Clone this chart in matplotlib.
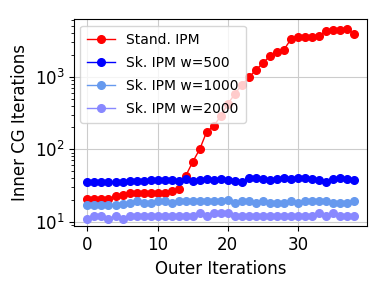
import matplotlib
matplotlib.use("Agg")
import matplotlib.pyplot as plt
import numpy as np

x = list(range(39))
stand_ipm = [20.4, 20.4, 20.4, 20.4, 22.6, 23.6, 24.6, 25.1, 25.1, 25.1,
             25.1, 25.1, 26.3, 28.5, 42.7, 67, 100, 175, 209, 288,
             420, 580, 769, 980, 1236, 1545, 1928, 2170, 2354, 3300,
             3520, 3560, 3560, 3670, 4260, 4400, 4430, 4500, 3940]
sk_500 = [35.0, 35.6, 35.6, 35.6, 35.0, 35.0, 36.8, 36.8, 36.8, 37.6,
          37.6, 37.6, 37.6, 36.8, 39.0, 36.8, 37.6, 38.5, 37.6, 38.5,
          37.6, 36.8, 35.6, 39.7, 39.7, 38.5, 37.6, 38.5, 39.7, 38.5,
          39.7, 39.7, 38.5, 37.6, 35.6, 38.5, 39.7, 38.5, 37.6]
sk_1000 = [17.0, 17.0, 17.0, 17.0, 17.0, 17.4, 18.3, 19.1, 18.3, 18.3,
           19.1, 19.1, 18.3, 19.1, 19.1, 19.1, 19.1, 19.1, 19.1, 19.1,
           19.9, 18.3, 19.1, 19.1, 18.3, 19.1, 18.3, 17.9, 18.3, 19.1,
           18.3, 19.1, 19.1, 19.1, 19.1, 18.3, 18.3, 18.3, 19.1]
sk_2000 = [10.9, 12.0, 12.0, 10.9, 12.0, 10.9, 12.0, 12.0, 12.0, 12.0,
           12.0, 12.0, 12.0, 12.0, 12.0, 12.0, 13.1, 12.0, 13.1, 13.1,
           13.1, 12.0, 12.0, 12.0, 12.0, 12.0, 12.0, 12.0, 12.0, 12.0,
           12.0, 12.0, 12.0, 13.1, 12.0, 13.1, 12.0, 12.0, 12.0]

series = [
    ("Stand. IPM", stand_ipm, "red"),
    ("Sk. IPM w=500", sk_500, "blue"),
    ("Sk. IPM w=1000", sk_1000, "#6699EE"),
    ("Sk. IPM w=2000", sk_2000, "#8888FF"),
]

fig = plt.figure(figsize=(3.88, 2.90), dpi=100)
ax = fig.add_axes([0.191, 0.219, 0.756, 0.714])
for label, vals, col in series:
    ax.plot(x, vals, marker="o", markersize=5.5, linewidth=1.0, color=col, label=label)

ax.set_yscale("log")
ax.set_ylim(8.6, 6170)
ax.set_xlim(-1.9, 39.9)
ax.set_xticks([0, 10, 20, 30])
ax.grid(True, which="major", color="#cccccc", linewidth=0.8)
ax.tick_params(axis="both", which="major", labelsize=12)
ax.set_xlabel("Outer Iterations", fontsize=12)
ax.set_ylabel("Inner CG Iterations", fontsize=12)
leg = ax.legend(loc="upper left", fontsize=10, handlelength=2.0, borderaxespad=0.45,
                labelspacing=0.65, borderpad=0.5)
leg.set_zorder(5)

fig.savefig("out.png", dpi=100)
